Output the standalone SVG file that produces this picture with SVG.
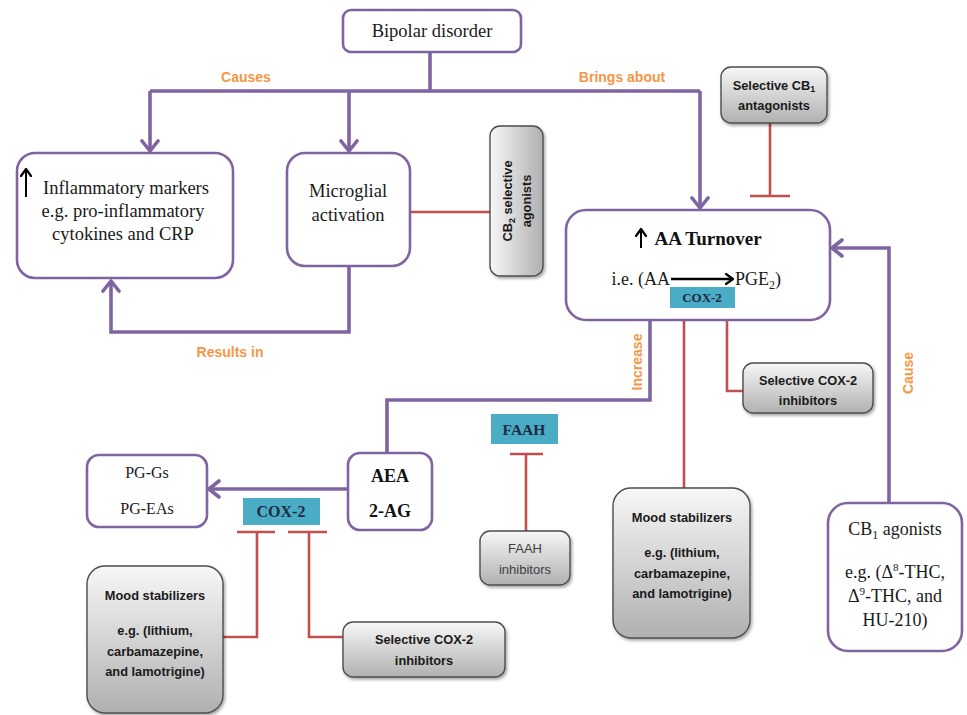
<svg xmlns="http://www.w3.org/2000/svg" width="967" height="715" viewBox="0 0 967 715">
<style>
.pbox{fill:#fff;stroke:#8064A2;stroke-width:2.6}
.gbox{fill:url(#gg);stroke:#4d4d4d;stroke-width:1.4;filter:url(#sh)}
.teal{fill:#4BACC6}
.pc{fill:none;stroke:#8064A2;stroke-width:3.6;stroke-linejoin:miter}
.rc{fill:none;stroke:#C0504D;stroke-width:2.6}
.st{font-family:"Liberation Serif","Times New Roman",serif;font-size:18px;fill:#1a1a1a;text-anchor:middle}
.sb{font-family:"Liberation Serif","Times New Roman",serif;font-weight:bold;fill:#111;text-anchor:middle}
.gt{font-family:"Liberation Sans",Arial,sans-serif;font-weight:bold;font-size:12.8px;fill:#1a1a1a;text-anchor:middle}
.ol{font-family:"Liberation Sans",Arial,sans-serif;font-weight:bold;font-size:14px;fill:#F79646;text-anchor:middle}
.bk{fill:none;stroke:#000;stroke-width:2}
</style>
<defs>
<linearGradient id="gg" x1="0" y1="0" x2="0" y2="1">
<stop offset="0" stop-color="#f7f7f7"/>
<stop offset="1" stop-color="#b0b0b0"/>
</linearGradient>
<linearGradient id="gh" x1="0" y1="0" x2="1" y2="0">
<stop offset="0" stop-color="#f7f7f7"/>
<stop offset="1" stop-color="#b0b0b0"/>
</linearGradient>
<filter id="sh" x="-20%" y="-20%" width="150%" height="150%">
<feDropShadow dx="1.5" dy="2" stdDeviation="1.5" flood-color="#000" flood-opacity="0.35"/>
</filter>
<marker id="pa" markerUnits="userSpaceOnUse" viewBox="-12 -10 14 20" refX="0" refY="0" markerWidth="14" markerHeight="20" orient="auto">
<path d="M-10,-8 L0,0 L-10,8" fill="none" stroke="#8064A2" stroke-width="3.6" stroke-linecap="round" stroke-linejoin="round"/>
</marker>
<marker id="ba" markerUnits="userSpaceOnUse" viewBox="-8 -6 10 12" refX="0" refY="0" markerWidth="10" markerHeight="12" orient="auto">
<path d="M-7,-5 L0,0 L-7,5" fill="none" stroke="#000" stroke-width="2.2" stroke-linecap="round" stroke-linejoin="round"/>
</marker>
</defs>

<g id="connectors">
<path class="pc" d="M430,52 V91 M150,91 H700"/>
<path class="pc" d="M150,91 V151" marker-end="url(#pa)"/>
<path class="pc" d="M349,91 V151" marker-end="url(#pa)"/>
<path class="pc" d="M700,91 V208" marker-end="url(#pa)"/>
<path class="pc" d="M349,266 V332 H111 V281" marker-end="url(#pa)"/>
<path class="pc" d="M387,453 V400 H650 V288" marker-end="url(#pa)"/>
<path class="pc" d="M348,489 H209" marker-end="url(#pa)"/>
<path class="pc" d="M889,503 V248 H832" marker-end="url(#pa)"/>
<path class="rc" d="M490,212 H389 M389,197 V228"/>
<path class="rc" d="M770,123 V196 M750,196 H790"/>
<path class="rc" d="M668,315 H700 M712,315 H743 M684,315 V488 M727,315 V391 H743"/>
<path class="rc" d="M526,454 V531 M510,454 H543"/>
<path class="rc" d="M237,532 H275 M288,532 H327 M257,532 V637 H223 M309,532 V637 H343"/>
<text class="ol" x="246" y="82">Causes</text>
<text class="ol" x="622" y="82">Brings about</text>
<text class="ol" x="230" y="357">Results in</text>
<text class="ol" transform="translate(642,362) rotate(-90)">Increase</text>
<text class="ol" transform="translate(913,373) rotate(-90)">Cause</text>
</g>

<g id="bipolar">
<rect class="pbox" x="343" y="10" width="178" height="42" rx="8"/>
<text class="st" x="432" y="37" style="font-size:18.5px">Bipolar disorder</text>
</g>

<g id="inflammatory">
<rect class="pbox" x="17" y="153" width="216" height="125" rx="18"/>
<path class="bk" d="M26,197 V169" marker-end="url(#ba)"/>
<text class="st" x="126" y="194" style="font-size:18.5px">Inflammatory markers</text>
<text class="st" x="123" y="217" style="font-size:18.5px">e.g. pro-inflammatory</text>
<text class="st" x="123" y="240" style="font-size:18.5px">cytokines and CRP</text>
</g>

<g id="microglial">
<rect class="pbox" x="287" y="153" width="123" height="113" rx="18"/>
<text class="st" x="348" y="197" style="font-size:18.5px">Microglial</text>
<text class="st" x="348" y="221" style="font-size:18.5px">activation</text>
</g>

<g id="cb2">
<rect x="490" y="126" width="53" height="150" rx="10" fill="url(#gh)" stroke="#4d4d4d" stroke-width="1.4" filter="url(#sh)"/>
<g transform="translate(516,201) rotate(-90)">
<text class="gt" x="0" y="-4">CB<tspan font-size="9" dy="3">2</tspan><tspan dy="-3"> selective</tspan></text>
<text class="gt" x="0" y="15">agonists</text>
</g>
</g>

<g id="cb1antag">
<rect class="gbox" x="721" y="67" width="106" height="56" rx="10"/>
<text class="gt" x="774" y="90">Selective CB<tspan font-size="9" dy="2">1</tspan></text>
<text class="gt" x="774" y="110">antagonists</text>
</g>

<g id="aa">
<rect class="pbox" x="566" y="210" width="264" height="110" rx="20"/>
<path class="bk" d="M641,248 V229" marker-end="url(#ba)"/>
<text class="sb" x="708" y="245" style="font-size:19px">AA Turnover</text>
<text class="st" x="670" y="285" style="text-anchor:end">i.e. (AA</text>
<path d="M671,279 H733" fill="none" stroke="#000" stroke-width="2.4" marker-end="url(#ba)"/>
<text class="st" x="735" y="285" style="text-anchor:start">PGE<tspan font-size="12" dy="4">2</tspan><tspan dy="-4">)</tspan></text>
<rect class="teal" x="670" y="287" width="65" height="21"/>
<text class="sb" x="702" y="302" style="font-size:13px;fill:#1f2a44">COX-2</text>
</g>

<g id="cox2inhR">
<rect class="gbox" x="743" y="363" width="130" height="50" rx="10"/>
<text class="gt" x="808" y="385">Selective COX-2</text>
<text class="gt" x="808" y="405">inhibitors</text>
</g>

<g id="faah">
<rect class="teal" x="491" y="414" width="67" height="30"/>
<text class="sb" x="524" y="435" style="font-size:15.5px;fill:#1f2a44">FAAH</text>
</g>

<g id="faahinh">
<rect class="gbox" x="480" y="531" width="90" height="54" rx="10"/>
<text class="gt" x="525" y="553" style="font-weight:normal;fill:#404040;font-size:13px">FAAH</text>
<text class="gt" x="525" y="574" style="font-weight:normal;fill:#404040;font-size:13px">inhibitors</text>
</g>

<g id="moodMid">
<rect class="gbox" x="613" y="488" width="137" height="150" rx="18"/>
<text class="gt" x="682" y="522">Mood stabilizers</text>
<text class="gt" x="682" y="557">e.g. (lithium,</text>
<text class="gt" x="682" y="578">carbamazepine,</text>
<text class="gt" x="682" y="598">and lamotrigine)</text>
</g>

<g id="cb1ag">
<rect class="pbox" x="828" y="503" width="134" height="148" rx="20"/>
<text class="st" x="895" y="535">CB<tspan font-size="12" dy="4">1</tspan><tspan dy="-4"> agonists</tspan></text>
<text class="st" x="895" y="578">e.g. (Δ<tspan font-size="11" dy="-7">8</tspan><tspan dy="7">-THC,</tspan></text>
<text class="st" x="895" y="602">Δ<tspan font-size="11" dy="-7">9</tspan><tspan dy="7">-THC, and</tspan></text>
<text class="st" x="895" y="626">HU-210)</text>
</g>

<g id="aea">
<rect class="pbox" x="348" y="453" width="84" height="77" rx="12"/>
<text class="sb" x="390" y="482" style="font-size:18px">AEA</text>
<text class="sb" x="390" y="517" style="font-size:18px">2-AG</text>
</g>

<g id="pg">
<rect class="pbox" x="87" y="455" width="120" height="72" rx="12"/>
<text class="st" x="147" y="478" style="font-size:16px">PG-Gs</text>
<text class="st" x="147" y="514" style="font-size:16px">PG-EAs</text>
</g>

<g id="cox2L">
<rect class="teal" x="243" y="498" width="77" height="27"/>
<text class="sb" x="281" y="517" style="font-size:16px;fill:#1f2a44">COX-2</text>
</g>

<g id="moodLeft">
<rect class="gbox" x="87" y="566" width="136" height="147" rx="18"/>
<text class="gt" x="155" y="600">Mood stabilizers</text>
<text class="gt" x="155" y="635">e.g. (lithium,</text>
<text class="gt" x="155" y="656">carbamazepine,</text>
<text class="gt" x="155" y="676">and lamotrigine)</text>
</g>

<g id="cox2inhL">
<rect class="gbox" x="343" y="622" width="162" height="55" rx="10"/>
<text class="gt" x="424" y="644">Selective COX-2</text>
<text class="gt" x="424" y="665">inhibitors</text>
</g>
</svg>
